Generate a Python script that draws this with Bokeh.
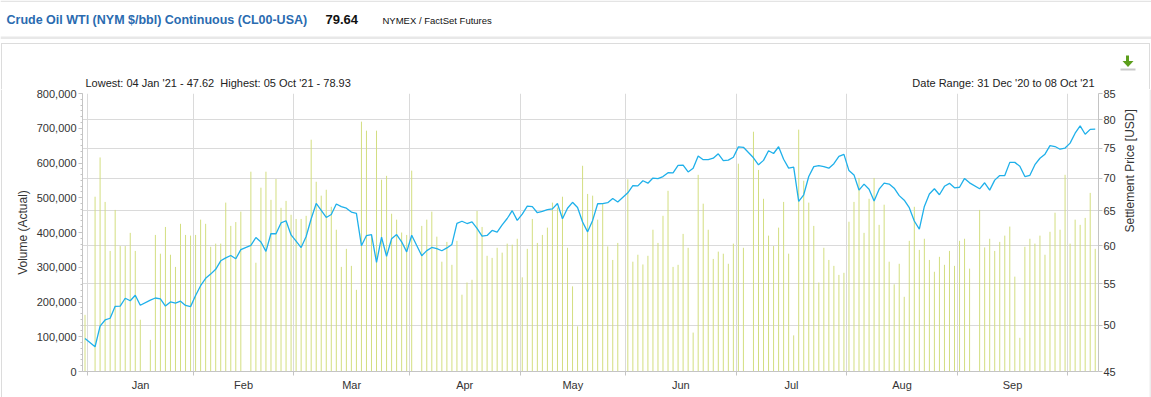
import math
import pandas as pd
from bokeh.plotting import figure
from bokeh.layouts import column, row
from bokeh.models import (Range1d, LinearAxis, LogScale, FixedTicker, Grid,
                          ColumnDataSource, NumeralTickFormatter)
from bokeh.core.properties import value
from bokeh.embed import file_html
from bokeh.resources import INLINE

# ---------------- data ----------------
date_start = "2020-12-31"
date_end = "2021-10-08"
holidays = ["2021-01-01", "2021-01-18", "2021-02-15", "2021-04-02",
            "2021-05-31", "2021-07-05", "2021-09-06"]

prices = [48.52,
          47.62, 49.93, 50.63, 50.83, 52.24,
          52.25, 53.21, 52.91, 53.57, 52.36,
          52.98, 53.24, 53.13, 52.27,
          52.77, 52.61, 52.85, 52.34, 52.20,
          53.55, 54.76, 55.69, 56.23, 56.85,
          57.97, 58.36, 58.68, 58.24, 59.47,
          60.05, 61.14, 60.52, 59.24,
          61.70, 61.67, 63.22, 63.53, 61.50,
          60.64, 59.75, 61.28, 63.83, 66.09,
          65.05, 64.01, 64.44, 66.02, 65.61,
          65.39, 64.80, 64.60, 60.00, 61.42,
          61.55, 57.76, 61.18, 58.56, 60.97,
          61.56, 60.55, 59.16, 61.45,
          58.65, 59.33, 59.77, 59.60, 59.32,
          59.70, 60.18, 63.15, 63.46, 63.13,
          63.38, 62.44, 61.35, 61.43, 62.14,
          61.91, 62.94, 63.86, 65.01, 63.58,
          64.49, 65.69, 65.63, 64.71, 64.90,
          65.16, 65.28, 66.08, 63.82, 65.37,
          66.27, 65.49, 63.36, 61.94, 63.58,
          66.05, 66.07, 66.21, 66.85, 66.32,
          67.72, 68.83, 68.81, 69.62,
          69.23, 70.05, 69.96, 70.29, 70.91,
          70.88, 72.12, 72.15, 71.04, 71.64,
          73.66, 73.06, 73.08, 73.30, 74.05,
          72.91, 72.98, 73.47, 75.23, 75.16,
          73.37, 72.20, 72.94, 74.56,
          74.10, 75.25, 73.13, 71.65, 71.81,
          66.42, 67.42, 70.30, 71.91, 72.07,
          71.91, 71.65, 72.39, 73.62, 73.95,
          71.26, 70.56, 68.15, 69.09, 68.28,
          66.48, 68.29, 69.25, 69.09, 68.44,
          67.29, 66.59, 65.46, 63.50, 62.32,
          65.64, 67.54, 68.36, 67.42, 68.74,
          69.21, 68.50, 68.59, 69.99, 69.29,
          68.35, 69.30, 68.14, 69.72,
          70.45, 70.46, 72.61, 72.61, 71.97,
          70.29, 70.49, 72.23, 73.30, 73.98,
          75.45, 75.29, 74.83, 75.03, 75.88,
          77.62, 78.93, 77.43, 78.30, 78.35]

volumes_k = [163,
             503, 616, 488, 347, 465,
             361, 361, 399, 347, 149,
             91, 393, 339, 416,
             336, 301, 425, 393, 391,
             393, 437, 425, 359, 368,
             368, 486, 419, 430, 460,
             575, 313, 529, 575,
             494, 554, 471, 491, 451,
             439, 439, 448, 667, 546,
             506, 523, 474, 408, 301,
             353, 304, 235, 719, 693,
             390, 693, 552, 563, 454,
             437, 400, 393, 578,
             419, 437, 460, 388, 316,
             373, 307, 376, 221, 256,
             264, 462, 416, 333, 327,
             356, 342, 368, 365, 382,
             271, 353, 439, 370, 393,
             414, 486, 472, 503, 356,
             245, 130, 592, 511, 506,
             437, 483, 360, 321, 370,
             553, 316, 336, 308,
             333, 408, 370, 448, 520,
             301, 307, 396, 356, 112,
             566, 483, 408, 324, 345,
             339, 310, 368, 598, 356,
             690, 580, 497, 391,
             361, 414, 488, 339, 104,
             696, 549, 486, 419, 256,
             356, 321, 304, 278, 284,
             431, 488, 557, 399, 497,
             557, 422, 480, 316, 251,
             310, 215, 376, 474, 350,
             382, 321, 287, 330, 307,
             347, 304, 376, 382, 296,
             465, 357, 382, 347,
             373, 391, 417, 273, 97,
             359, 382, 368, 391, 336,
             402, 457, 408, 566, 368,
             437, 422, 442, 514, 353]

month_starts = ["2021-01-01", "2021-02-01", "2021-03-01", "2021-04-01", "2021-05-01",
                "2021-06-01", "2021-07-01", "2021-08-01", "2021-09-01", "2021-10-01"]
month_names = ["Jan", "Feb", "Mar", "Apr", "May", "Jun", "Jul", "Aug", "Sep"]
volume_ticks = [0, 100000, 200000, 300000, 400000, 500000, 600000, 700000, 800000]
price_ticks = [45, 50, 55, 60, 65, 70, 75, 80, 85]

title_text = "Crude Oil WTI (NYM $/bbl) Continuous (CL00-USA)"
last_text = "79.64"
source_text = "NYMEX / FactSet Futures"
lowhigh_text = "Lowest: 04 Jan '21 - 47.62\u00a0 Highest: 05 Oct '21 - 78.93"
range_text = "Date Range: 31 Dec '20 to 08 Oct '21"

# ---------------- x positions (weekday slots) ----------------
slots = pd.bdate_range(date_start, date_end)
slot_of = {d: i for i, d in enumerate(slots)}
hol = set(pd.to_datetime(holidays))
trading = [d for d in slots if d not in hol]
assert len(trading) == len(prices) == len(volumes_k), (len(trading), len(prices), len(volumes_k))
xs = [slot_of[d] for d in trading]
vols = [v * 1000 for v in volumes_k]


def first_slot(ds):
    d = pd.Timestamp(ds)
    while d not in slot_of:
        d += pd.Timedelta(days=1)
    return slot_of[d]


bounds = [round(first_slot(m) - 0.45, 3) for m in month_starts]
mids = [round((bounds[k] + bounds[k + 1]) / 2, 3) for k in range(len(month_names))]
minor_vol = [k * 100000 / 6 for k in range(0, 49)]

src = ColumnDataSource(dict(x=xs, vol=vols, price=prices))

FONT = "Liberation Sans"
AX = "#c4c4c4"
TXT = "#333333"
BORDER = "#dcdcdc"
W = 1151
HEAD_H = 89
CHART_H = 308
STRIP = 2


def blank(width, height, x0, x1, y0, y1):
    f = figure(width=width, height=height, output_backend="svg", toolbar_location=None,
               title=None, x_range=Range1d(x0, x1), y_range=Range1d(y1, y0),
               x_axis_type=None, y_axis_type=None,
               min_border=0, min_border_left=0, min_border_right=0,
               min_border_top=0, min_border_bottom=0)
    f.grid.visible = False
    f.outline_line_color = None
    f.background_fill_color = "white"
    f.border_fill_color = "white"
    return f


# ---------------- header figure (page coordinates) ----------------
h = blank(W, HEAD_H, 0, W, 0, HEAD_H)
h.quad(left=[0, 0, 1, 0.5, 1148.5], right=[W, W, 1149.5, 1.5, 1149.5],
       top=[0, 36, 42.5, 42.5, 42.5], bottom=[1.5, 38.5, 43.5, HEAD_H, HEAD_H],
       fill_color=["#e4e4e4", "#e8e8e8", BORDER, BORDER, BORDER], line_color=None)
h.text(x=[6], y=[19], text=[title_text], text_font=value(FONT), text_font_size="12.5px",
       text_font_style="bold", text_color="#2a6bb0", text_baseline="middle", text_align="left")
h.text(x=[325], y=[19], text=[last_text], text_font=value(FONT), text_font_size="13px",
       text_font_style="bold", text_color="#111111", text_baseline="middle", text_align="left")
h.text(x=[382], y=[19.5], text=[source_text], text_font=value(FONT), text_font_size="9.5px",
       text_color="#111111", text_baseline="middle", text_align="left")
h.text(x=[85], y=[82.5], text=[lowhigh_text], text_font=value(FONT), text_font_size="11px",
       text_color="#222222", text_baseline="middle", text_align="left")
h.text(x=[1094], y=[82.5], text=[range_text], text_font=value(FONT), text_font_size="11px",
       text_color="#222222", text_baseline="middle", text_align="right")
# download icon
h.quad(left=[1125.5, 1120], right=[1128.5, 1135], top=[55, 68], bottom=[61, 70],
       fill_color=["#5c9e1c", "#c9c9c9"], line_color=None)
h.patch(x=[1122, 1133, 1127.5], y=[60.5, 60.5, 66.5], fill_color="#5c9e1c", line_color=None)

# side strips for the panel border (page x 0..2 and 1149..1151)
left_strip = blank(STRIP, CHART_H, 0, STRIP, 0, CHART_H)
left_strip.quad(left=[0.5], right=[1.5], top=[0], bottom=[CHART_H], fill_color=BORDER, line_color=None)
right_strip = blank(STRIP, CHART_H, 0, STRIP, 0, CHART_H)
right_strip.quad(left=[0], right=[1], top=[0], bottom=[CHART_H], fill_color=BORDER, line_color=None)

# ---------------- chart figure ----------------
p = figure(width=W - 2 * STRIP, height=CHART_H, output_backend="svg", toolbar_location=None,
           title=None, x_range=Range1d(-0.5, 201.65), y_range=Range1d(0, 800000),
           min_border_left=82 - STRIP, min_border_right=53 - STRIP,
           min_border_top=4, min_border_bottom=26)
p.extra_y_ranges = {"price": Range1d(45, 85)}
p.extra_y_scales = {"price": LogScale()}
p.outline_line_color = None
p.background_fill_color = "white"
p.border_fill_color = "white"

# bottom axis: labels mid-month, ticks at month boundaries
xa = p.xaxis[0]
xa.ticker = FixedTicker(ticks=mids, minor_ticks=bounds)
xa.major_label_overrides = {m: n for m, n in zip(mids, month_names)}
xa.major_tick_out = 0
xa.major_tick_in = 0
xa.minor_tick_out = 4
xa.minor_tick_in = 0
xa.minor_tick_line_color = AX
xa.axis_line_color = AX
xa.major_label_standoff = 3
xa.major_label_text_font = FONT
xa.major_label_text_font_size = "11px"
xa.major_label_text_color = TXT

# left axis: volume
ya = p.yaxis[0]
ya.ticker = FixedTicker(ticks=volume_ticks, minor_ticks=minor_vol)
ya.formatter = NumeralTickFormatter(format="0,0")
ya.major_tick_out = 4
ya.major_tick_in = 0
ya.minor_tick_out = 2
ya.minor_tick_in = 0
ya.major_tick_line_color = AX
ya.minor_tick_line_color = AX
ya.axis_line_color = AX
ya.major_label_standoff = 2
ya.major_label_text_font = FONT
ya.major_label_text_font_size = "11px"
ya.major_label_text_color = TXT
ya.axis_label = "Volume (Actual)"
ya.axis_label_text_font = FONT
ya.axis_label_text_font_size = "12px"
ya.axis_label_text_font_style = "normal"
ya.axis_label_text_color = TXT
ya.axis_label_standoff = 4

# right axis: price (log)
ra = LinearAxis(y_range_name="price", ticker=FixedTicker(ticks=price_ticks))
ra.major_tick_out = 4
ra.major_tick_in = 0
ra.minor_tick_out = 0
ra.minor_tick_in = 0
ra.major_tick_line_color = AX
ra.axis_line_color = AX
ra.major_label_standoff = 1
ra.major_label_text_font = FONT
ra.major_label_text_font_size = "11px"
ra.major_label_text_color = TXT
ra.axis_label = "Settlement Price [USD]"
ra.axis_label_text_font = FONT
ra.axis_label_text_font_size = "12px"
ra.axis_label_text_font_style = "normal"
ra.axis_label_text_color = TXT
ra.axis_label_standoff = 11
if "axis_label_orientation" in ra.properties():
    ra.axis_label_orientation = math.pi / 2
p.add_layout(ra, "right")

# grids
p.xgrid.ticker = FixedTicker(ticks=bounds)
p.xgrid.grid_line_color = "#dadada"
p.ygrid.visible = False
gy = Grid(dimension=1, ticker=FixedTicker(ticks=price_ticks), y_range_name="price",
          grid_line_color="#dadada")
p.add_layout(gy)

# glyphs
p.segment(x0="x", y0=0, x1="x", y1="vol", source=src, line_color="#d3de80", line_width=1)
p.line(x="x", y="price", source=src, y_range_name="price", line_color="#1fb0ea", line_width=1.3)

figs = [h, p, left_strip, right_strip]
if "frame_align" in h.properties():
    for f in figs:
        f.frame_align = False
root = column(h, row(left_strip, p, right_strip, spacing=0), spacing=0)
open("out.html", "w").write(file_html(root, INLINE))
